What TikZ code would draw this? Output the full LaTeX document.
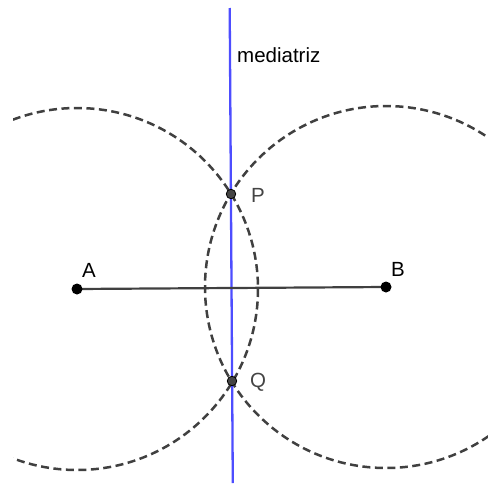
\documentclass[tikz,border=0pt]{standalone}
\usepackage{fontspec}
\setmainfont{Liberation Sans}
\usepackage{tikz}
\usepackage{xcolor}
\usetikzlibrary{positioning}
\definecolor{bisectorColor}{HTML}{4D4DFF}
\definecolor{circleColor}{HTML}{404040}
\definecolor{pointColor}{HTML}{444444}

\begin{document}
\begin{tikzpicture}[
		x=1pt, y=-1pt,
		arc/.style={draw=circleColor, line width=2.5pt, dash pattern=on 8pt off 4.5pt},
		bisector/.style={draw=bisectorColor, line width=2.3pt},
		segment/.style={draw=circleColor, line width=2.2pt},
		point/.style={circle, inner sep=0pt, minimum size=11pt, fill=black},
		cross/.style={circle, inner sep=0pt, minimum size=9.5pt, fill=pointColor, draw=black, line width=0.8pt},
		label text/.style={font=\fontsize{20.5}{24}\selectfont, inner sep=0pt},
	]
	\useasboundingbox (0,0) rectangle (488,485);
	% Positions
	\coordinate (A) at (77,289);
	\coordinate (B) at (386,287);
	\coordinate (P) at (231,194);
	\coordinate (Q) at (232,381);
	\coordinate (top) at (229.7,8);
	\coordinate (bottom) at (232.8,483);
	% Circles of equal radius
	\begin{scope}
		\clip (13,0) rectangle (488,485);
		\draw[arc] (A) circle (181);
		\draw[arc] (B) circle (181);
	\end{scope}
	% Bisector and segment
	\draw[bisector] (top) -- (bottom);
	\draw[segment] (A) -- (B);
	% Points
	\node[point] (point A) at (A) {};
	\node[point] (point B) at (B) {};
	\node[cross] (point P) at (P) {};
	\node[cross] (point Q) at (Q) {};
	% Labels
	\node[label text, anchor=base west] (label A) at (82,277) {A};
	\node[label text, anchor=base west] (label B) at (391,276) {B};
	\node[label text, anchor=base west, pointColor] (label P) at (251,202) {P};
	\node[label text, anchor=base west, pointColor] (label Q) at (250,387) {Q};
	\node[label text, anchor=base west] (label bisector) at (237,62) {mediatriz};
\end{tikzpicture}
\end{document}
